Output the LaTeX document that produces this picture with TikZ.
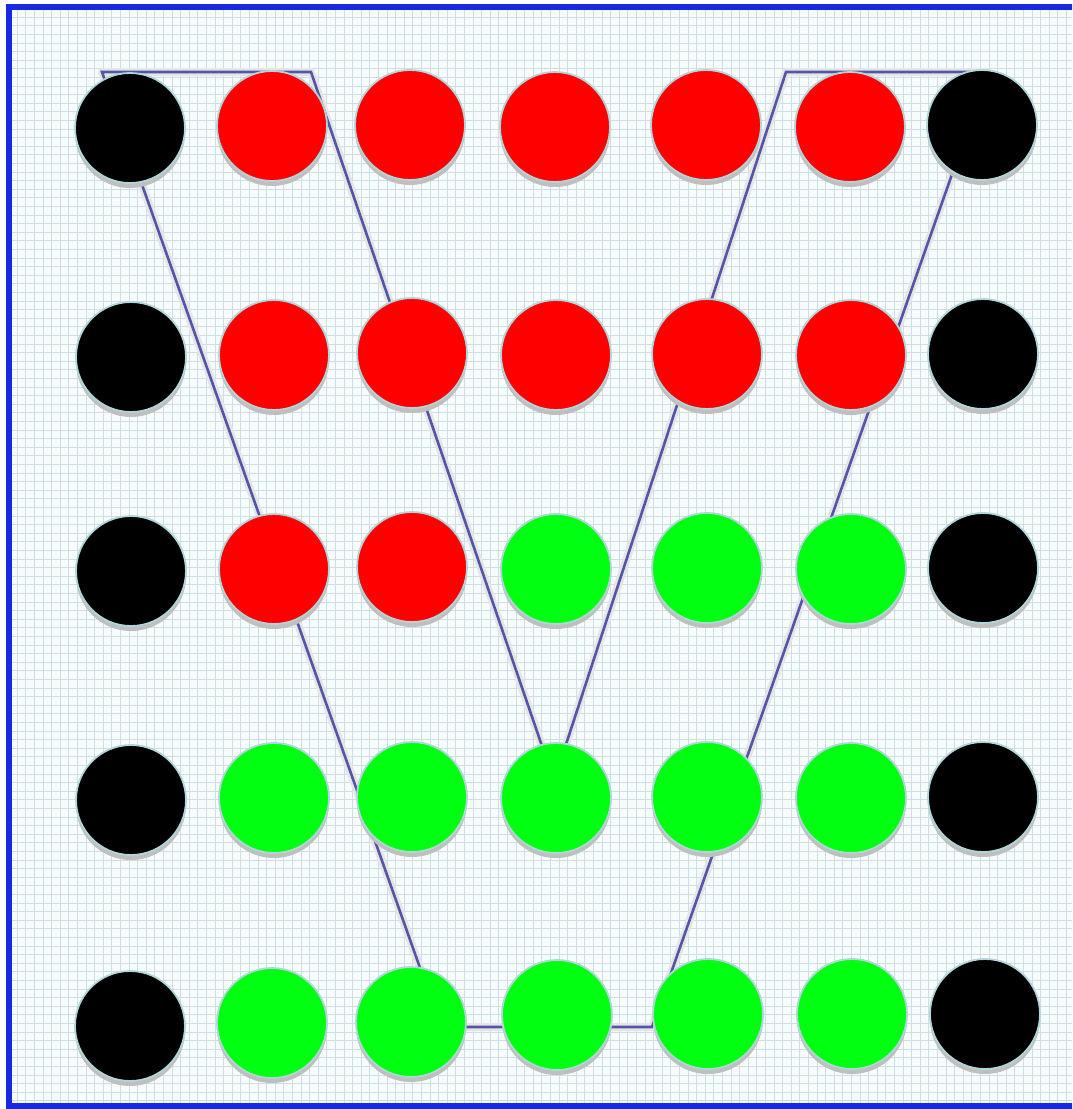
\documentclass[tikz,border=0pt]{standalone}
\usetikzlibrary{shadows}
\definecolor{bordblue}{RGB}{22,42,228}
\definecolor{gridc}{RGB}{208,222,228}
\definecolor{paper}{RGB}{246,252,252}
\definecolor{linec}{RGB}{82,86,168}
\definecolor{rimc}{RGB}{176,214,218}
\definecolor{redc}{RGB}{255,0,0}
\definecolor{greenc}{RGB}{0,255,16}
\tikzset{
  dot/.style={circle, minimum size=110pt, inner sep=0pt, draw=rimc, line width=1.8pt,
    drop shadow={shadow xshift=0pt, shadow yshift=-5pt, fill=black!25, opacity=1}},
  blk/.style={dot, fill=black},
  rd/.style={dot, fill=redc},
  gr/.style={dot, fill=greenc},
  funnel/.style={draw=linec, line width=2.6pt, line join=miter},
  funnelshadow/.style={draw=black!10, line width=8pt, line join=round},
}
\begin{document}
\begin{tikzpicture}[x=1pt,y=-1pt]
\useasboundingbox (0,0) rectangle (1072,1109);
\clip (0,0) rectangle (1072,1109);
\fill[white] (0,0) rectangle (1072,1109);
\fill[paper] (9,7) rectangle (1090,1106);
\draw[gridc, line width=0.9pt, step=8.6pt] (12,10) grid (1072,1104);
\draw[bordblue, line width=5.5pt] (9,7) rectangle (1090,1106);

% funnel outline
\coordinate (p1) at (102,72);
\coordinate (p2) at (311,72);
\coordinate (p3) at (554,781);
\coordinate (p4) at (786,72);
\coordinate (p5) at (988,72);
\coordinate (p6) at (652,1027);
\coordinate (p7) at (441,1027);
\draw[funnelshadow, shift={(3pt,-8pt)}] (p1) -- (p2) -- (p3) -- (p4) -- (p5) -- (p6) -- (p7) -- cycle;
\draw[funnel] (p1) -- (p2) -- (p3) -- (p4) -- (p5) -- (p6) -- (p7) -- cycle;

% row 1
\node[blk] (a1) at (130,128) {};
\node[rd]  (a2) at (272,126) {};
\node[rd]  (a3) at (410,125) {};
\node[rd]  (a4) at (555,127) {};
\node[rd]  (a5) at (706,125) {};
\node[rd]  (a6) at (850,127) {};
\node[blk] (a7) at (982,125) {};
% row 2
\node[blk] (b1) at (131,357) {};
\node[rd]  (b2) at (274,355) {};
\node[rd]  (b3) at (412,353) {};
\node[rd]  (b4) at (556,355) {};
\node[rd]  (b5) at (707,354) {};
\node[rd]  (b6) at (851,355) {};
\node[blk] (b7) at (983,354) {};
% row 3
\node[blk] (c1) at (131,571) {};
\node[rd]  (c2) at (274,569) {};
\node[rd]  (c3) at (412,567) {};
\node[gr]  (c4) at (556,569) {};
\node[gr]  (c5) at (707,568) {};
\node[gr]  (c6) at (851,569) {};
\node[blk] (c7) at (983,568) {};
% row 4
\node[blk] (d1) at (131,800) {};
\node[gr]  (d2) at (274,798) {};
\node[gr]  (d3) at (412,797) {};
\node[gr]  (d4) at (556,798) {};
\node[gr]  (d5) at (707,797) {};
\node[gr]  (d6) at (851,798) {};
\node[blk] (d7) at (983,797) {};
% row 5
\node[blk] (e1) at (130,1026) {};
\node[gr]  (e2) at (272,1023) {};
\node[gr]  (e3) at (411,1022) {};
\node[gr]  (e4) at (557,1015) {};
\node[gr]  (e5) at (708,1014) {};
\node[gr]  (e6) at (852,1014) {};
\node[blk] (e7) at (985,1014) {};
\end{tikzpicture}
\end{document}
